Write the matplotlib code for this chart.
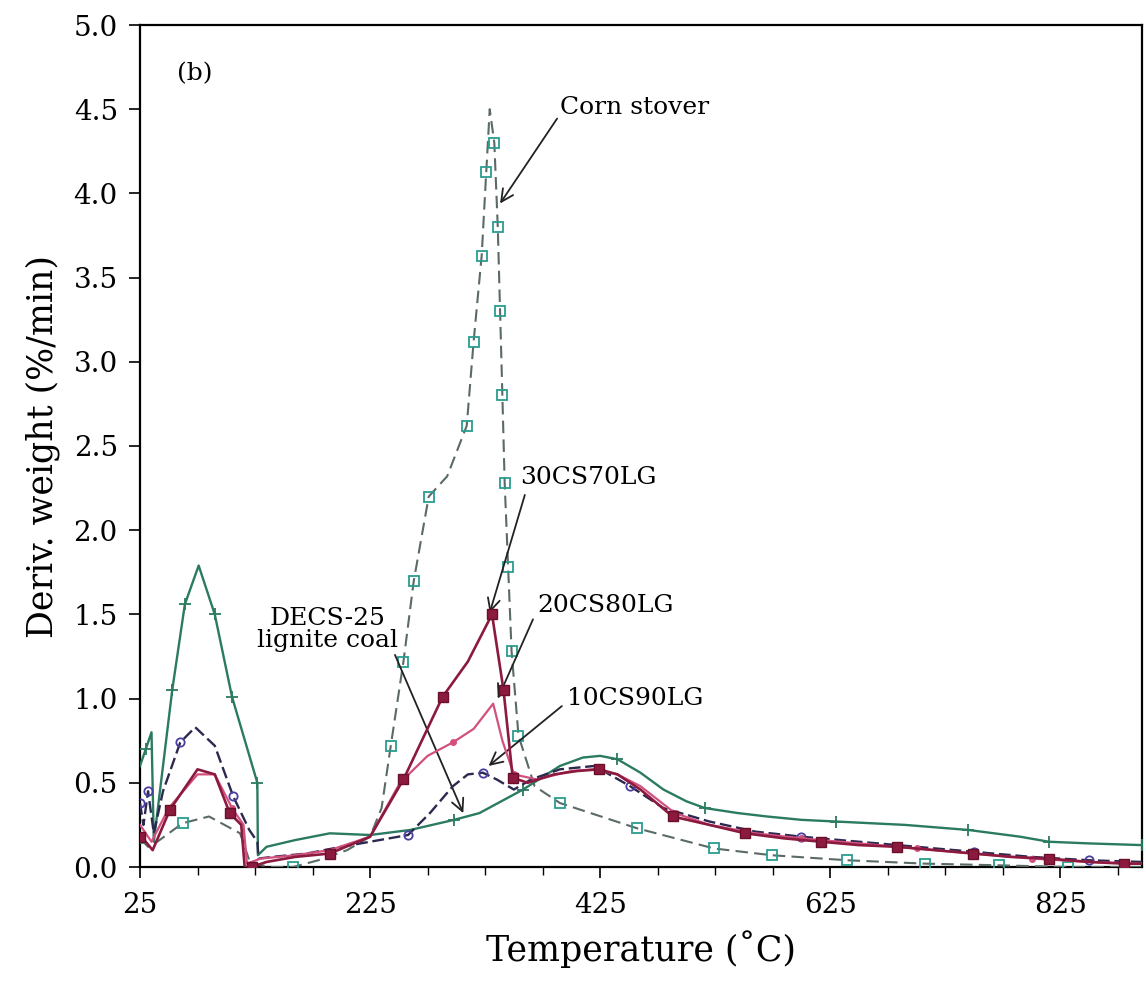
import matplotlib
matplotlib.use("Agg")
import matplotlib.pyplot as plt

plt.rcParams['font.family'] = ['DejaVu Serif']

# ---------------- data ----------------
lig_x = [25, 30, 35, 37, 45, 53, 64, 76, 90, 105, 127, 127.5, 135, 160, 190, 225, 260, 298, 320,
         358, 390, 410, 425, 440, 460, 480, 500, 516, 545, 570, 600, 630, 690, 745, 790, 815, 850, 896]
lig_y = [0.60, 0.70, 0.80, 0.15, 0.60, 1.05, 1.56, 1.79, 1.50, 1.01, 0.50, 0.07, 0.12, 0.16, 0.20, 0.19,
         0.22, 0.28, 0.32, 0.46, 0.60, 0.65, 0.66, 0.64, 0.56, 0.46, 0.39, 0.35, 0.32, 0.30, 0.28, 0.27,
         0.25, 0.22, 0.18, 0.15, 0.14, 0.13]

cs_x = [25, 32, 40, 62, 85, 112, 121, 140, 158, 180, 205, 225, 235, 243, 254, 263, 276, 292, 309, 315,
        322, 326, 329, 333, 336, 338, 340, 342, 345, 348, 354, 368, 390, 457, 524, 574, 640, 707, 772,
        832, 896]
cs_y = [0.17, 0.12, 0.15, 0.26, 0.30, 0.20, 0.02, 0.00, 0.00, 0.04, 0.10, 0.18, 0.35, 0.72, 1.22, 1.70,
        2.20, 2.32, 2.62, 3.12, 3.63, 4.13, 4.50, 4.30, 3.80, 3.30, 2.80, 2.28, 1.78, 1.28, 0.78, 0.48,
        0.38, 0.23, 0.11, 0.07, 0.04, 0.02, 0.01, 0.00, 0.00]

c30_x = [25, 30, 36, 51, 75, 90, 103, 113, 116, 122, 135, 160, 190, 225, 254, 288, 310, 331, 341, 349,
         362, 385, 405, 424, 440, 460, 488, 520, 551, 585, 617, 650, 683, 716, 749, 782, 815, 850, 880, 896]
c30_y = [0.18, 0.15, 0.10, 0.34, 0.58, 0.55, 0.32, 0.25, 0.00, 0.00, 0.03, 0.06, 0.08, 0.18, 0.52, 1.01,
         1.22, 1.50, 1.05, 0.53, 0.50, 0.55, 0.57, 0.58, 0.55, 0.46, 0.30, 0.25, 0.20, 0.17, 0.15, 0.13,
         0.12, 0.10, 0.08, 0.06, 0.05, 0.03, 0.02, 0.02]

c20_x = [25, 35, 50, 75, 90, 105, 115, 118, 130, 160, 190, 225, 251, 275, 297, 315, 332, 340, 350, 370,
         400, 420, 440, 460, 490, 520, 560, 600, 650, 700, 750, 800, 850, 896]
c20_y = [0.25, 0.15, 0.35, 0.55, 0.55, 0.35, 0.25, 0.02, 0.05, 0.07, 0.10, 0.18, 0.50, 0.66, 0.74, 0.82,
         0.97, 0.75, 0.55, 0.52, 0.57, 0.58, 0.55, 0.48, 0.32, 0.25, 0.20, 0.17, 0.14, 0.11, 0.08, 0.05,
         0.03, 0.02]

c10_x = [25, 28, 32, 37, 45, 60, 73, 90, 106, 120, 127, 128, 140, 170, 200, 225, 258, 277, 297, 310,
         323, 335, 350, 365, 390, 420, 451, 480, 520, 560, 600, 650, 700, 750, 800, 850, 896]
c10_y = [0.38, 0.25, 0.45, 0.20, 0.45, 0.74, 0.83, 0.72, 0.42, 0.22, 0.15, 0.05, 0.06, 0.08, 0.12, 0.15,
         0.19, 0.32, 0.48, 0.55, 0.56, 0.52, 0.46, 0.52, 0.58, 0.60, 0.48, 0.35, 0.27, 0.21, 0.18, 0.15,
         0.12, 0.09, 0.06, 0.04, 0.03]

x_ticks = [25, 225, 425, 625, 825]
y_ticks = [0.0, 0.5, 1.0, 1.5, 2.0, 2.5, 3.0, 3.5, 4.0, 4.5, 5.0]

# ---------------- figure ----------------
W, H = 1146, 983
fig = plt.figure(figsize=(W / 100, H / 100), dpi=100)
ax = fig.add_axes([140 / W, 1 - 867 / H, (1142 - 140) / W, (867 - 25) / H])

ax.plot(cs_x, cs_y, color='#5a6a66', lw=1.5, dashes=(6, 3), marker='s', ms=7,
        mfc='none', mec='#2a9d8f', mew=1.3,
        markevery=[0, 3, 8, 13, 14, 15, 16, 18, 19, 20, 21, 23, 24, 25, 26, 27, 28, 29, 30, 32, 33, 34,
                   35, 36, 37, 38, 39], zorder=3)
ax.plot(lig_x, lig_y, color='#2b7a62', lw=1.7, marker='+', ms=9, mew=1.3,
        markevery=[1, 5, 6, 8, 9, 10, 17, 19, 23, 27, 31, 33, 35, 37], zorder=4)
ax.plot(c10_x, c10_y, color='#2c2850', lw=1.7, dashes=(5, 2), marker='o', ms=6,
        mfc='none', mec='#4a3fa0', mew=1.3,
        markevery=[0, 2, 5, 8, 16, 20, 26, 30, 33, 35], zorder=4)
ax.plot(c20_x, c20_y, color='#d2507e', lw=1.6, marker='o', ms=4, mfc='#d2507e', mec='#d2507e',
        markevery=[2, 5, 14, 18, 24, 27, 29, 31], zorder=4)
ax.plot(c30_x, c30_y, color='#8c1a3e', lw=1.9, marker='s', ms=7, mfc='#8c1a3e', mec='#6a0f2a',
        markevery=[0, 3, 6, 9, 12, 14, 15, 17, 18, 19, 23, 26, 28, 30, 32, 34, 36, 38], zorder=5)

ax.set_xlim(25, 896)
ax.set_ylim(0, 5.0)
ax.set_xticks(x_ticks)
ax.set_xticks(list(range(75, 896, 50)), minor=True)
ax.set_yticks(y_ticks)
ax.set_yticklabels([f"{v:.1f}" for v in y_ticks])
ax.tick_params(axis='both', which='major', direction='out', length=8, width=1.2,
               labelsize=20, top=False, right=False)
ax.tick_params(axis='x', which='major', pad=10)
ax.tick_params(axis='y', which='major', pad=8)
ax.tick_params(axis='x', which='minor', direction='out', length=6, width=1.0)
for s in ax.spines.values():
    s.set_linewidth(1.6)

ax.set_xlabel("Temperature (˚C)", fontsize=25, labelpad=8)
ax.set_ylabel("Deriv. weight (%/min)", fontsize=25, labelpad=10)

# annotations
tfs = 18
ax.text(57, 4.71, "(b)", fontsize=tfs, ha='left', va='center')
arrow = dict(arrowstyle='->', color='#222222', lw=1.3, mutation_scale=22)
ax.annotate("Corn stover", xy=(338, 3.94), xytext=(390, 4.51), fontsize=tfs,
            ha='left', va='center', arrowprops=dict(arrow, shrinkA=0, shrinkB=0,
                                                    relpos=(0, 0.2)))
ax.annotate("30CS70LG", xy=(329, 1.51), xytext=(355, 2.31), fontsize=tfs,
            ha='left', va='center', arrowprops=dict(arrow, shrinkA=2, shrinkB=0,
                                                    relpos=(0.05, 0.0)))
ax.annotate("20CS80LG", xy=(336, 1.0), xytext=(370, 1.55), fontsize=tfs,
            ha='left', va='center', arrowprops=dict(arrow, shrinkA=2, shrinkB=0,
                                                    relpos=(0.0, 0.3)))
ax.annotate("10CS90LG", xy=(328, 0.60), xytext=(396, 1.0), fontsize=tfs,
            ha='left', va='center', arrowprops=dict(arrow, shrinkA=2, shrinkB=0,
                                                    relpos=(0.0, 0.35)))
ax.annotate("DECS-25\nlignite coal", xy=(306, 0.32), xytext=(188, 1.41), fontsize=tfs,
            ha='center', va='center', linespacing=0.95,
            arrowprops=dict(arrow, shrinkA=0, shrinkB=0, relpos=(0.97, 0.0)))

fig.savefig("out.png", dpi=100)
